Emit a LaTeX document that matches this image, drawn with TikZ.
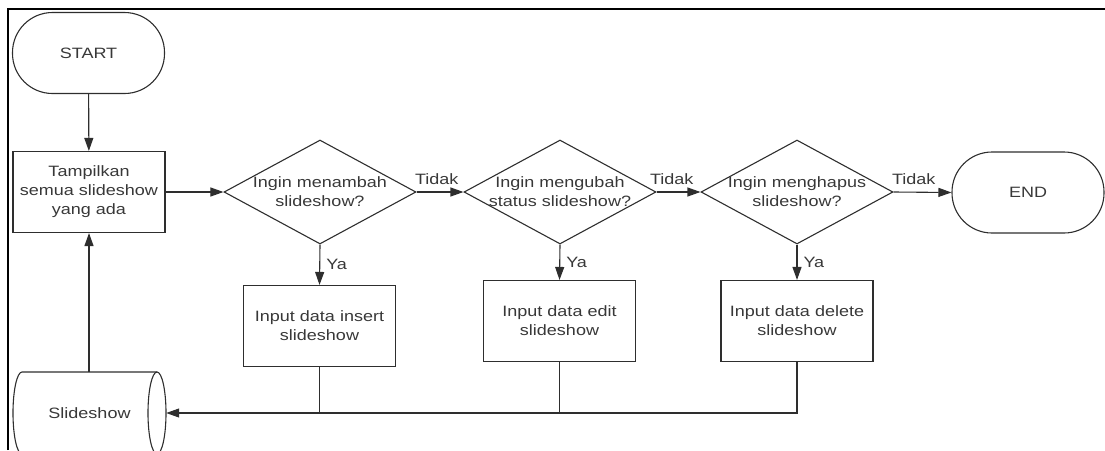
\documentclass[tikz,border=0pt]{standalone}
\usepackage{fontspec}
\setmainfont[FakeStretch=1.2]{Liberation Sans}
\usetikzlibrary{shapes.geometric,arrows.meta}
\begin{document}
\begin{tikzpicture}[x=1pt,y=-1pt,
  every node/.style={font=\fontsize{15}{19}\selectfont, text=black!78},
  line/.style={draw=black!82, line width=1.1pt},
  arr/.style={line, -{Triangle[length=13pt,width=9pt]}},
  term/.style={line, rectangle, rounded corners=40pt, minimum width=152pt, minimum height=81pt, inner sep=0pt},
  procbox/.style={line, rectangle, minimum width=152pt, minimum height=81pt, align=center, inner sep=0pt},
  decision/.style={line, diamond, minimum width=192pt, minimum height=104pt, inner sep=0pt},
  dtext/.style={align=center, inner sep=0pt},
  lbl/.style={inner sep=0pt, anchor=south west, yshift=7pt}
]
\useasboundingbox (0,0) rectangle (1105,450);
% frame (cropped screenshot border)
\draw[black, line width=2pt] (8,450) -- (8,9) -- (1105,9);

\node[term] (start) at (88.5,53) {START};
\node[procbox] (show) at (89,192) {Tampilkan\\semua slideshow\\yang ada};

\node[decision] (d1) at (320,192) {};
\node[dtext] (t1) at (320,192) {Ingin menambah\\slideshow?};
\node[decision] (d2) at (560,192) {};
\node[dtext] (t2) at (560,192) {Ingin mengubah\\status slideshow?};
\node[decision] (d3) at (797,192) {};
\node[dtext] (t3) at (797,192) {Ingin menghapus\\slideshow?};

\node[term] (end) at (1028,192.5) {END};

\node[procbox] (b1) at (319.5,326) {Input data insert\\slideshow};
\node[procbox] (b2) at (559.5,321) {Input data edit\\slideshow};
\node[procbox] (b3) at (797,321) {Input data delete\\slideshow};

% stored data (horizontal cylinder)
\draw[line] (157,372) -- (22,372) arc[start angle=270, end angle=90, x radius=9, y radius=41] -- (157,454);
\draw[line] (157,413) ellipse[x radius=9, y radius=41];
\node[rectangle, minimum width=153pt, minimum height=82pt, inner sep=0pt, text width=153pt, align=center, xshift=-6pt] (db) at (95.5,413) {Slideshow};

% connectors
\draw[arr] (start) -- (show);
\draw[arr] (show) -- (d1);
\draw[arr] (d1.east) -- node[lbl, pos=0, xshift=-2pt] (n1) {Tidak} (d2.west);
\draw[arr] (d2.east) -- node[lbl, pos=0, xshift=-7pt] (n2) {Tidak} (d3.west);
\draw[arr] (d3.east) -- node[lbl, pos=0, xshift=-2pt] (n3) {Tidak} (end.west);
\draw[arr] (d1.south) -- node[right, inner sep=6pt] (y1) {Ya} (b1.north);
\draw[arr] (d2.south) -- node[right, inner sep=6pt] (y2) {Ya} (b2.north);
\draw[arr] (d3.south) -- node[right, inner sep=6pt] (y3) {Ya} (b3.north);
\draw[arr] (b3.south) |- (db.east);
\draw[line] (b1.south) -- (b1.south |- db.east);
\draw[line] (b2.south) -- (b2.south |- db.east);
\draw[arr] (show.south |- db.north) -- (show.south);
\end{tikzpicture}
\end{document}
